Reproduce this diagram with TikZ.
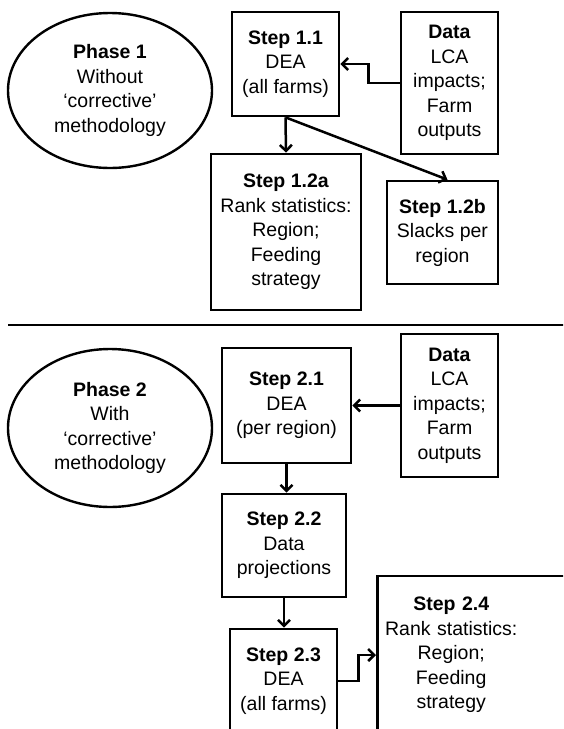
\documentclass[tikz,border=0pt]{standalone}
\usepackage{fontspec}
\setmainfont{Liberation Sans}
\usetikzlibrary{positioning, arrows.meta, shapes.geometric}

\begin{document}
\begin{tikzpicture}[
    x=1pt, y=-1pt,
    stepbox/.style={rectangle, draw, line width=2.7pt, inner sep=0pt, align=center, font=\fontsize{19.5}{24.5}\selectfont},
    steptext/.style={rectangle, inner sep=0pt, align=center, text width=150pt, font=\fontsize{19.5}{24.5}\selectfont},
    phase/.style={ellipse, draw, line width=2.4pt, inner sep=0pt, minimum width=204pt, align=center, font=\fontsize{19.5}{24.5}\selectfont},
    arrow/.style={-{Straight Barb[length=6pt, width=12pt]}, line width=2.5pt}
  ]
  \useasboundingbox (0,0) rectangle (563,729);
  \clip (0,0) rectangle (563,729);

  % Phase 1
  \node[phase, minimum height=155pt] (ph1) at (110,90.5) {\textbf{Phase 1}\\Without\\‘corrective’\\methodology};
  \node[stepbox, minimum width=107pt, minimum height=104pt] (s11) at (285.5,64) {\textbf{Step 1.1}\\DEA\\(all farms)};
  \node[stepbox, minimum width=97pt, minimum height=142pt] (data1) at (449.5,83) {\textbf{Data}\\LCA\\impacts;\\Farm\\outputs};
  \node[stepbox, minimum width=150pt, minimum height=156pt] (s12a) at (286,232) {\textbf{Step 1.2a}\\Rank statistics:\\Region;\\Feeding\\strategy};
  \node[stepbox, minimum width=111pt, minimum height=103pt] (s12b) at (442.5,232.5) {\textbf{Step 1.2b}\\Slacks per\\region};

  % Divider
  \coordinate (sepl) at (8,325);
  \coordinate (sepr) at (570,325);
  \draw[line width=2.7pt] (sepl) -- (sepr);

  % Phase 2
  \node[phase, minimum height=158pt] (ph2) at (110,428) {\textbf{Phase 2}\\With\\‘corrective’\\methodology};
  \node[stepbox, minimum width=129pt, minimum height=115pt] (s21) at (286.5,405.5) {\textbf{Step 2.1}\\DEA\\(per region)};
  \node[stepbox, minimum width=97pt, minimum height=143pt] (data2) at (449.5,405.5) {\textbf{Data}\\LCA\\impacts;\\Farm\\outputs};
  \node[stepbox, minimum width=124pt, minimum height=103pt] (s22) at (284,545.5) {\textbf{Step 2.2}\\Data\\projections};
  \node[stepbox, minimum width=107pt, minimum height=104pt] (s23) at (283.5,681) {\textbf{Step 2.3}\\DEA\\(all farms)};
  \node[stepbox, anchor=west, minimum width=220pt, minimum height=158pt] (s24) at (376,655) {};
  \node[steptext, right=0pt of s24.west] (s24t) {\textbf{Step 2.4}\\Rank statistics:\\Region;\\Feeding\\strategy};

  % Arrows
  \draw[arrow] (data1.west) -- ++(-31,0) |- (s11.east);
  \draw[arrow] (s11.south) -- (s12a.north);
  \draw[arrow] (s11.south) -- ([xshift=5pt]s12b.north);
  \draw[arrow] (data2.west) -- (s21.east);
  \draw[arrow] (s21.south) -- (s21.south |- s22.north);
  \draw[arrow] (s22.south) -- (s22.south |- s23.north);
  \draw[arrow] (s23.east) -- ++(20,0) |- (s24.west);
\end{tikzpicture}
\end{document}
